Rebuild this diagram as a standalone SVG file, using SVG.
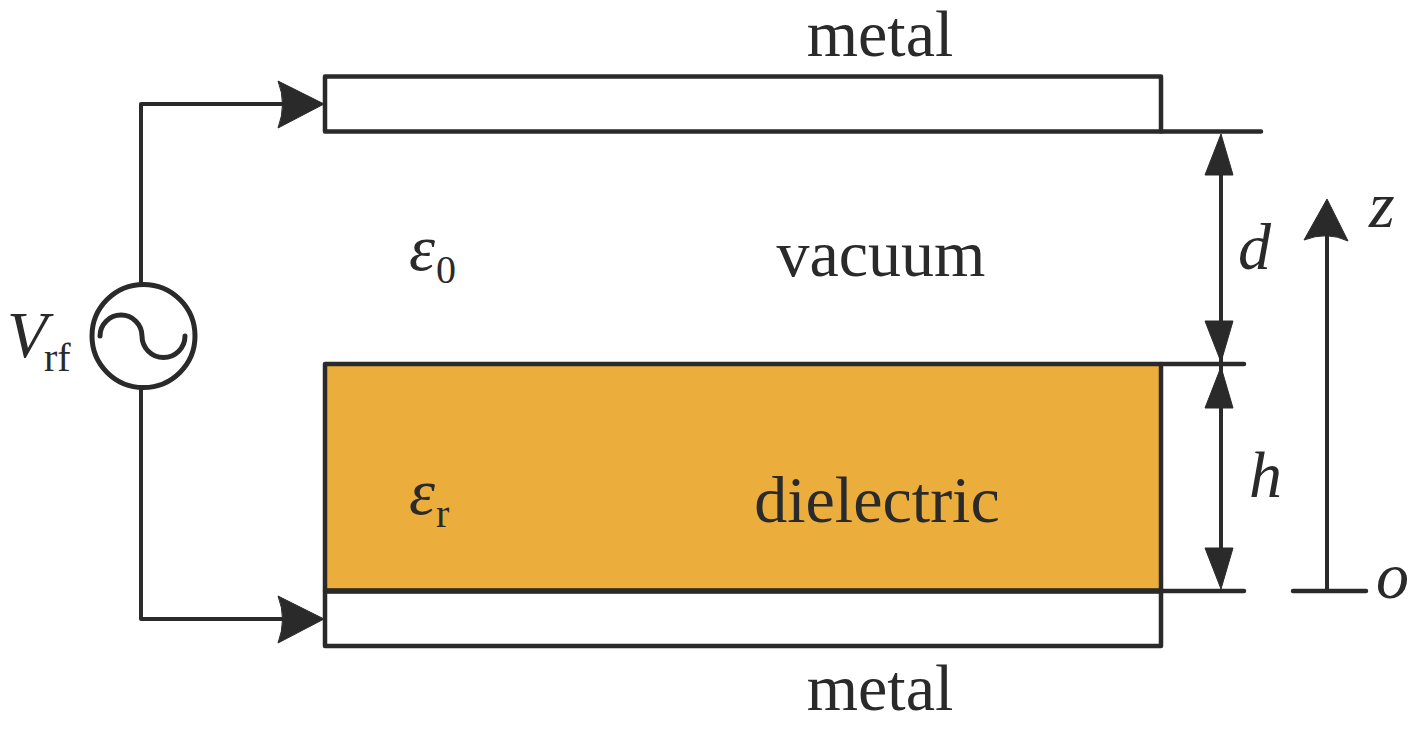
<svg xmlns="http://www.w3.org/2000/svg" width="1417" height="729" viewBox="0 0 1417 729">
<style>
.l{fill:none;stroke:#2b2a2b;stroke-width:4.5;stroke-linecap:round;stroke-linejoin:round}
.thin{stroke-width:4}
.thick{stroke-width:5.5;stroke-linecap:butt}
.ring{stroke-width:5}
.h{fill:#2b2a2b;stroke:#2b2a2b;stroke-width:1;stroke-linejoin:round}
text{font-family:"Liberation Serif","Times New Roman",serif;fill:#2b2a2b}
.t{font-size:66px}
.i{font-size:66px;font-style:italic}
.s{font-size:40px}
</style>
<rect width="1417" height="729" fill="#fff"/>
<g id="metal-top">
<rect class="l" x="325" y="76.500" width="836" height="55"/>
<text class="t" x="880" y="56" text-anchor="middle">metal</text>
</g>
<g id="dielectric">
<rect x="325" y="364" width="836" height="227" fill="#ebae3c"/>
<rect class="l" x="325" y="364" width="836" height="227"/>
<path class="l thick" d="M325 591H1161"/>
<text class="t" x="877" y="522" text-anchor="middle">dielectric</text>
</g>
<g id="metal-bottom">
<path class="l" d="M325 591V646H1161V591"/>
<text class="t" x="880" y="710" text-anchor="middle">metal</text>
</g>
<g id="vacuum">
<text class="t" x="881" y="276" text-anchor="middle">vacuum</text>
</g>
<g id="eps0"><text class="i" x="409" y="270">ε</text><text class="s" x="436" y="283">0</text></g>
<g id="epsr"><text class="i" x="409" y="514">ε</text><text class="s" x="436" y="527">r</text></g>
<g id="source">
<circle class="l ring" cx="143.500" cy="336" r="51.500"/>
<path class="l ring" d="M100 336A21 21 0 0 1 142 336A21 21 0 0 0 185 336"/>
<text class="i" x="7" y="357">V</text>
<text class="s" x="44" y="371">rf</text>
</g>
<g id="connectors">
<path class="l thin" d="M141 282V104H290"/>
<path class="h" d="M324 104L278 81Q287 104 278 128Z"/>
<path class="l thin" d="M141 390V619H290"/>
<path class="h" d="M324 619L278 596Q287 619 278 643Z"/>
<path class="l" d="M1161 131.500H1261M1161 364H1244M1161 591H1244M1293 591H1366"/>
<path class="l thin" d="M1221 170V560"/>
<path class="h" d="M1221 134L1233 175H1205Z"/>
<path class="h" d="M1221 362L1205 321H1233Z"/>
<path class="h" d="M1221 367L1233 408H1205Z"/>
<path class="h" d="M1221 589L1205 548H1233Z"/>
<path class="l thin" d="M1327 591V230"/>
<path class="h" d="M1327 199L1348 241Q1327 231 1304 240Z"/>
</g>
<g id="axis-labels">
<text class="i" x="1238" y="269">d</text>
<text class="i" x="1249" y="497">h</text>
<text class="i" x="1369" y="227">z</text>
<text class="i" x="1376" y="598">o</text>
</g>
</svg>
